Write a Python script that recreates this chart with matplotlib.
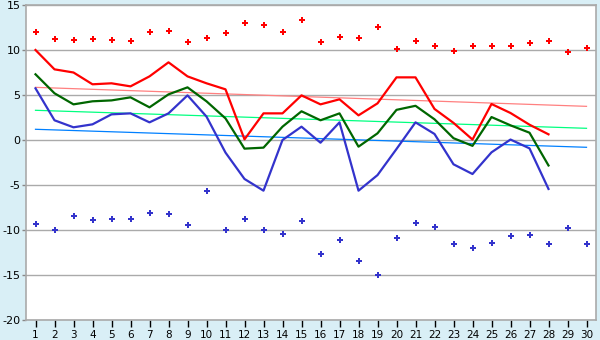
import matplotlib.pyplot as plt

plt.rcParams['axes.unicode_minus'] = False

# dias do mês
dias = list(range(1, 31))

# pontos superiores (vermelhos) e inferiores (azuis)
maximos = [12.0, 11.2, 11.1, 11.2, 11.1, 11.0, 12.0, 12.1, 10.85, 11.3,
           11.85, 12.96, 12.74, 12.0, 13.3, 10.85, 11.5, 11.3, 12.6, 10.07,
           10.96, 10.5, 9.85, 10.5, 10.5, 10.5, 10.74, 10.96, 9.74, 10.19]
minimos = [-9.33, -10.04, -8.48, -8.93, -8.81, -8.81, -8.15, -8.26, -9.48, -5.7,
           -10.04, -8.81, -10.04, -10.48, -9.04, -12.7, -11.15, -13.48, -15.04, -10.93,
           -9.26, -9.7, -11.6, -12.04, -11.48, -10.7, -10.59, -11.6, -9.81, -11.6]

# linhas (28 dias)
dias_linha = dias[:28]
linha_vermelha = [10.0, 7.85, 7.5, 6.19, 6.3, 5.96, 7.07, 8.63, 7.07, 6.3,
                  5.63, 0.07, 2.96, 2.96, 4.96, 3.96, 4.52, 2.74, 4.07, 6.96,
                  6.96, 3.45, 1.9, 0.05, 4.0, 3.0, 1.7, 0.63]
linha_verde = [7.3, 5.19, 3.96, 4.3, 4.4, 4.74, 3.63, 5.07, 5.85, 4.3,
               2.4, -0.96, -0.85, 1.48, 3.19, 2.19, 2.96, -0.74, 0.74, 3.35,
               3.8, 2.3, 0.2, -0.65, 2.55, 1.63, 0.81, -2.83]
linha_azul = [5.74, 2.19, 1.41, 1.74, 2.85, 2.96, 1.96, 2.96, 4.96, 2.6,
              -1.4, -4.33, -5.63, 0.0, 1.48, -0.3, 1.96, -5.63, -3.9, -1.0,
              1.96, 0.67, -2.7, -3.78, -1.37, 0.05, -0.93, -5.44]

# tendências (início e fim, dia 1 a 30)
tend_x = [1, 30]
tend_vermelha = [5.85, 3.74]
tend_verde = [3.3, 1.3]
tend_azul = [1.19, -0.81]

fundo = '#d9eff6'
fig = plt.figure(figsize=(6, 3.4), dpi=100, facecolor=fundo)
ax = fig.add_axes([26/600, 1 - 320/340, (596 - 26)/600, (320 - 5)/340])
ax.set_facecolor('white')

ax.plot(tend_x, tend_vermelha, color='#ff8080', linewidth=0.9, zorder=2)
ax.plot(tend_x, tend_verde, color='#00ff80', linewidth=0.9, zorder=2)
ax.plot(tend_x, tend_azul, color='#0080ff', linewidth=0.9, zorder=2)

ax.plot(dias_linha, linha_vermelha, color='#ff0000', linewidth=1.6, zorder=3)
ax.plot(dias_linha, linha_verde, color='#006600', linewidth=1.6, zorder=3)
ax.plot(dias_linha, linha_azul, color='#3333cc', linewidth=1.6, zorder=3)

ax.plot(dias, maximos, linestyle='none', marker='P', markersize=4,
        color='#ff0000', markeredgewidth=0, zorder=4)
ax.plot(dias, minimos, linestyle='none', marker='P', markersize=4,
        color='#3333cc', markeredgewidth=0, zorder=4)

ax.set_xlim(0.5, 30.5)
ax.set_ylim(-20, 15)
ax.set_xticks(dias)
ax.set_yticks(range(-20, 16, 5))
ax.grid(axis='y', color='#aaaaaa', linewidth=1)
ax.set_axisbelow(True)

for lado in ['left', 'top', 'right', 'bottom']:
    ax.spines[lado].set_color('#aaaaaa')
    ax.spines[lado].set_linewidth(1.2)

ax.tick_params(axis='x', length=5, width=1, color='black', labelsize=7.5, pad=2)
ax.tick_params(axis='y', length=3, width=1, color='#888888', labelsize=8, pad=1)

plt.savefig('out.png', dpi=100, facecolor=fundo)
